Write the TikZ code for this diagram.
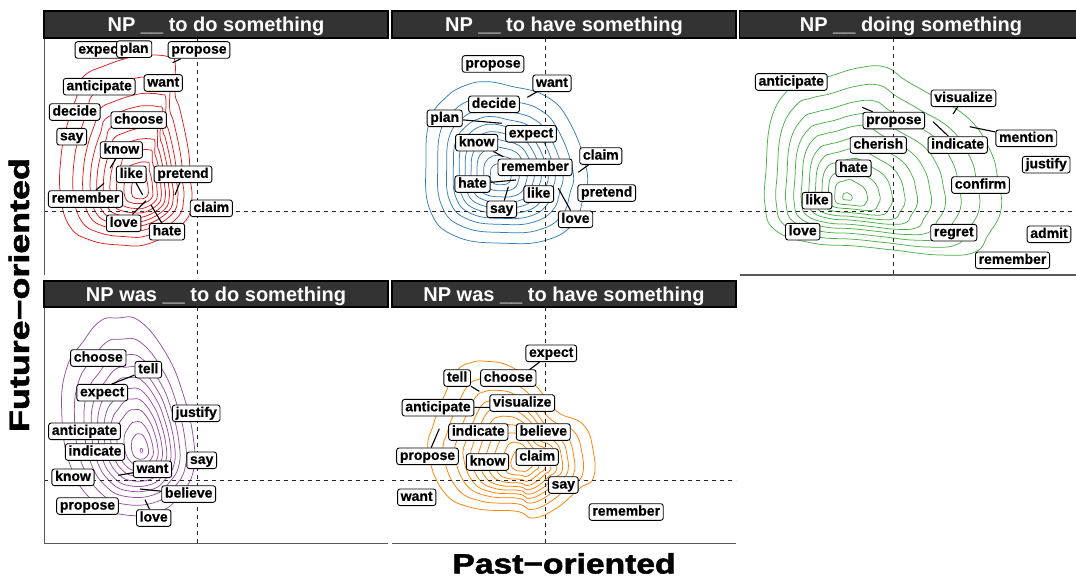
\documentclass[tikz,border=0pt]{standalone}
\usepackage{fontspec}
\setmainfont{Liberation Sans}
\newfontfamily\labelfont{Liberation Sans}[BoldFeatures={FakeBold=0.6}]
\newfontfamily\titlefont{Liberation Sans}[BoldFeatures={FakeBold=1.6}]
\usepackage{graphicx}
\definecolor{stripfill}{HTML}{333333}
\definecolor{axisgrey}{HTML}{595959}
\definecolor{cred}{HTML}{E41A1C}
\definecolor{cblue}{HTML}{377EB8}
\definecolor{cgreen}{HTML}{4DAF4A}
\definecolor{cpurple}{HTML}{984EA3}
\definecolor{corange}{HTML}{FF7F00}
\pgfdeclarelayer{paper}
\pgfdeclarelayer{contours}
\pgfdeclarelayer{leaders}
\pgfsetlayers{paper,contours,leaders,main}
% nested density contours: colour, centre of the peak, outer contour points, levels
\newcommand\densityrings[4]{%
  \begin{pgfonlayer}{contours}
  \foreach \s in {#4}{%
    \draw[ring,#1,scale around={\s:#2}] plot[smooth cycle,tension=0.75] coordinates {#3};
  }
  \end{pgfonlayer}}
\begin{document}
\begin{tikzpicture}[x=1pt,y=-1pt,
  stripbox/.style={draw=black,line width=1.4pt,fill=stripfill},
  striptext/.style={text=white,font=\bfseries\fontsize{20}{24}\selectfont,anchor=base,inner sep=0pt},
  lab/.style={draw=black,fill=white,rounded corners=2.5pt,line width=0.9pt,
    font=\labelfont\bfseries\fontsize{14}{16}\selectfont,inner xsep=3.2pt,inner ysep=1.7pt,
    text height=10.2pt,text depth=3pt},
  leader/.style={line width=1.1pt,black},
  guide/.style={line width=0.9pt,black!85,dash pattern=on 4pt off 4pt},
  axisline/.style={line width=1.2pt,axisgrey},
  ring/.style={line width=0.75pt},
  title/.style={font=\titlefont\bfseries\fontsize{28}{32}\selectfont,anchor=base,inner sep=0pt}]
\useasboundingbox (0,0) rectangle (1076,578);
\begin{pgfonlayer}{paper}
\fill[white] (0,0) rectangle (1076,578);
\end{pgfonlayer}

% ---------- density contours ----------
\densityrings{cred}{(142,192)}{(151.7,55) (168.3,56.7) (175,61.7) (175,93.3) (180,110) (188.3,150) (190,176.7) (191.7,200) (183.3,223.3) (150,243.3) (120,245) (90,240) (70,226.7) (60.7,196.7) (60.7,160) (66.7,126.7) (76.7,96.7) (83.3,76.7) (106.7,65) (133.3,56.7)}{1,0.84,0.72,0.63,0.55,0.47,0.39,0.31,0.22,0.13}
\densityrings{cblue}{(500,176)}{(486.7,81.7) (510,86) (546.7,96.7) (570,123) (586.7,170) (583.3,196.7) (573.3,223.3) (546.7,240) (506.7,243.3) (456.7,236.7) (430,210) (426,160) (430,120) (446.7,96.7) (466.7,85)}{1,0.84,0.72,0.63,0.55,0.47,0.39,0.31,0.22,0.13}
\densityrings{cgreen}{(846,198)}{(828,76.7) (858,68) (885,67) (905,80) (931,95) (968,118) (990,150) (998,180) (1001,210) (988,235) (975,252) (940,255) (893,250) (855,246) (812,243) (775,230) (765,205) (766,170) (771,120) (788,90) (805,82)}{1,0.86,0.74,0.64,0.55,0.46,0.38,0.3,0.22,0.14,0.04}
\densityrings{cpurple}{(141.7,451)}{(116.7,318) (140,321.3) (166.7,354.7) (183.3,394.7) (193.3,438) (193.3,471.3) (180,494.7) (160,511.3) (123.3,514.7) (93.3,501.3) (70,464.7) (61.7,411.3) (66.7,368) (83.3,341.3) (100,321.3)}{1,0.84,0.72,0.63,0.55,0.47,0.39,0.31,0.22,0.13,0.02}
\densityrings{corange}{(523,465)}{(486.7,361.3) (510,366.3) (535,385) (556.7,411.3) (583.3,424.7) (593.3,451.3) (593.3,478) (580,488) (556.7,508) (533.3,518) (516.7,511.3) (473.3,508) (443.3,491.3) (428.3,451.3) (433.3,424.7) (443.3,398) (456.7,371.3) (470,363)}{1,0.84,0.72,0.63,0.55,0.47,0.39,0.31,0.22,0.13}

% ---------- reference lines and axes ----------
\begin{pgfonlayer}{contours}
\draw[guide] (197,38) -- (197,275);  \draw[guide] (44,211) -- (388,211);
\draw[guide] (545,38) -- (545,275);  \draw[guide] (392,211) -- (736,211);
\draw[guide] (893,38) -- (893,275);  \draw[guide] (739.5,211) -- (1076,211);
\draw[guide] (197,307) -- (197,543); \draw[guide] (44,480) -- (388,480);
\draw[guide] (545,307) -- (545,543); \draw[guide] (392,480) -- (736,480);
\end{pgfonlayer}
\draw[axisline] (44.6,38) -- (44.6,275);
\draw[axisline] (44.6,307) -- (44.6,543.4);
\draw[axisline] (739.5,275) -- (1076,275);
\draw[axisline] (44,543.4) -- (388,543.4);
\draw[axisline] (392,543.4) -- (736,543.4);

% ---------- facet strips ----------
\draw[stripbox] (44,11) rectangle (388,38);
\draw[stripbox] (392,11) rectangle (736,38);
\draw[stripbox] (739.5,11) rectangle (1084,38);
\draw[stripbox] (44,281) rectangle (388,307);
\draw[stripbox] (392,281) rectangle (736,307);
\node[striptext] (s1) at (216,31.7) {NP \_\_ to do something};
\node[striptext] (s2) at (564,31.7) {NP \_\_ to have something};
\node[striptext] (s3) at (911,31.7) {NP \_\_ doing something};
\node[striptext] (s4) at (216,301.2) {NP was \_\_ to do something};
\node[striptext] (s5) at (564,301.2) {NP was \_\_ to have something};

% ---------- panel 1: NP __ to do something ----------
\node[lab] (a-expect) at (100.5,50) {expect};
\node[lab] (a-plan) at (134.2,49.2) {plan};
\node[lab] (a-propose) at (199,50) {propose};
\node[lab] (a-want) at (163.3,83) {want};
\node[lab] (a-anticipate) at (99.2,86.7) {anticipate};
\node[lab] (a-decide) at (74.7,112) {decide};
\node[lab] (a-choose) at (138.7,120) {choose};
\node[lab] (a-say) at (71.7,136.7) {say};
\node[lab] (a-know) at (121.3,150) {know};
\node[lab] (a-like) at (131.3,174.3) {like};
\node[lab] (a-pretend) at (183,174.3) {pretend};
\node[lab] (a-remember) at (85.5,199) {remember};
\node[lab] (a-claim) at (211.3,208.3) {claim};
\node[lab] (a-love) at (123.7,223.3) {love};
\node[lab] (a-hate) at (167,231.7) {hate};
\coordinate (a-propose-pt) at (172.7,62.7);
\coordinate (a-know-pt) at (110,168.3);
\coordinate (a-like-pt) at (142.7,195);
\coordinate (a-pretend-pt) at (175,195);
\coordinate (a-remember-pt) at (104,183.3);
\coordinate (a-love-pt) at (146,200.7);
\coordinate (a-hate-pt) at (151,205);

% ---------- panel 2: NP __ to have something ----------
\node[lab] (b-propose) at (493,64) {propose};
\node[lab] (b-want) at (552,83.3) {want};
\node[lab] (b-decide) at (494,104.3) {decide};
\node[lab] (b-plan) at (444.7,118.3) {plan};
\node[lab] (b-expect) at (531,133.8) {expect};
\node[lab] (b-know) at (476.7,142.7) {know};
\node[lab] (b-claim) at (600.8,156) {claim};
\node[lab] (b-remember) at (535,167.3) {remember};
\node[lab] (b-hate) at (472.5,184) {hate};
\node[lab] (b-like) at (538.7,194) {like};
\node[lab] (b-pretend) at (606.7,193) {pretend};
\node[lab] (b-say) at (501.7,209.3) {say};
\node[lab] (b-love) at (575.5,219.3) {love};
\coordinate (b-want-pt) at (527.3,97.3);
\coordinate (b-plan-pt) at (501.7,123.3);
\coordinate (b-know-pt) at (503.3,156.7);
\coordinate (b-claim-pt) at (578.3,172.3);
\coordinate (b-hate-pt) at (516,180);
\coordinate (b-say-pt) at (508.3,186.7);
\coordinate (b-love-pt) at (558.3,188.3);

% ---------- panel 3: NP __ doing something ----------
\node[lab] (c-anticipate) at (791.3,82) {anticipate};
\node[lab] (c-visualize) at (963.5,98.3) {visualize};
\node[lab] (c-propose) at (893.8,120.5) {propose};
\node[lab] (c-mention) at (1026.3,138.3) {mention};
\node[lab] (c-cherish) at (878.3,145) {cherish};
\node[lab] (c-indicate) at (957.7,145) {indicate};
\node[lab] (c-justify) at (1046.2,164.7) {justify};
\node[lab] (c-hate) at (853.5,168.3) {hate};
\node[lab] (c-confirm) at (980.5,185) {confirm};
\node[lab] (c-like) at (817,200.7) {like};
\node[lab] (c-love) at (802.7,231.7) {love};
\node[lab] (c-regret) at (953.8,232.7) {regret};
\node[lab] (c-admit) at (1049,234.3) {admit};
\node[lab] (c-remember) at (1012.5,260.3) {remember};
\coordinate (c-visualize-pt) at (953,114);
\coordinate (c-propose-pt) at (862,107.3);
\coordinate (c-mention-pt) at (969.7,126.7);
\coordinate (c-indicate-pt) at (933,121.7);

% ---------- panel 4: NP was __ to do something ----------
\node[lab] (d-choose) at (98.3,358) {choose};
\node[lab] (d-tell) at (148.3,369.7) {tell};
\node[lab] (d-expect) at (102.2,392.7) {expect};
\node[lab] (d-justify) at (196.2,413.3) {justify};
\node[lab] (d-anticipate) at (84.5,431.3) {anticipate};
\node[lab] (d-indicate) at (95,452) {indicate};
\node[lab] (d-say) at (201.7,460.3) {say};
\node[lab] (d-want) at (152.5,469.3) {want};
\node[lab] (d-know) at (73,477.3) {know};
\node[lab] (d-believe) at (188.7,494) {believe};
\node[lab] (d-propose) at (87.5,506) {propose};
\node[lab] (d-love) at (153.7,518) {love};
\coordinate (d-tell-pt) at (111.7,384);
\coordinate (d-want-pt) at (118.3,475.3);
\coordinate (d-believe-pt) at (140,489);
\coordinate (d-love-pt) at (145,499.7);

% ---------- panel 5: NP was __ to have something ----------
\node[lab] (e-expect) at (551.2,353.3) {expect};
\node[lab] (e-tell) at (457.2,378) {tell};
\node[lab] (e-choose) at (508.3,378) {choose};
\node[lab] (e-anticipate) at (438,407.7) {anticipate};
\node[lab] (e-visualize) at (522.2,403) {visualize};
\node[lab] (e-indicate) at (478.3,432) {indicate};
\node[lab] (e-believe) at (543.3,432) {believe};
\node[lab] (e-propose) at (427.5,456.3) {propose};
\node[lab] (e-claim) at (537.2,457) {claim};
\node[lab] (e-know) at (487.5,462) {know};
\node[lab] (e-say) at (563.3,485) {say};
\node[lab] (e-want) at (416.7,497.3) {want};
\node[lab] (e-remember) at (626.2,512) {remember};
\coordinate (e-expect-pt) at (527.3,371.3);
\coordinate (e-tell-pt) at (479.3,391.3);
\coordinate (e-anticipate-pt) at (490,407.3);
\coordinate (e-propose-pt) at (439.3,428.7);

% ---------- leader segments from labels to their points ----------
\begin{pgfonlayer}{leaders}
\foreach \n in {a-propose,a-know,a-like,a-pretend,a-remember,a-love,a-hate,
                b-want,b-plan,b-know,b-claim,b-hate,b-say,b-love,
                c-visualize,c-propose,c-mention,c-indicate,
                d-tell,d-want,d-believe,d-love,
                e-expect,e-tell,e-anticipate,e-propose}
  \draw[leader] (\n) -- (\n-pt);
\end{pgfonlayer}

% ---------- axis titles ----------
\node[title] (xtitle) at (564,573.5) {\scalebox{1.2}[1]{Past−oriented}};
\node[title,rotate=90] (ytitle) at (29,295) {\scalebox{1.28}[1]{Future−oriented}};
\end{tikzpicture}
\end{document}
